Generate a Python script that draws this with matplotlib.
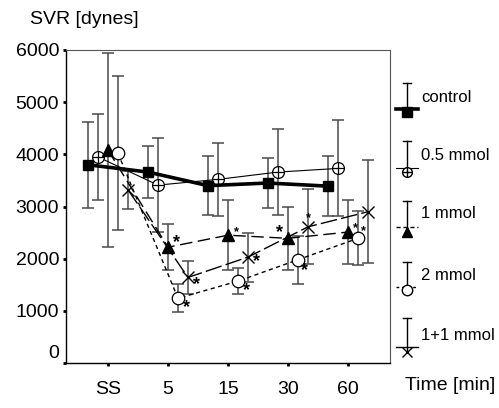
import matplotlib
matplotlib.use("Agg")
import matplotlib.pyplot as plt
import matplotlib.transforms as mtransforms

plt.rcParams['font.family'] = ['Liberation Sans', 'DejaVu Sans']

time_labels = ["SS", "5", "15", "30", "60"]
series_names = ["control", "0.5 mmol", "1 mmol", "2 mmol", "1+1 mmol"]

control_mean = [3800, 3660, 3400, 3450, 3390]
control_err = [820, 500, 560, 480, 580]
half_mean = [3950, 3410, 3520, 3660, 3730]
half_err = [825, 900, 700, 820, 920]
one_mean = [4080, 2220, 2450, 2390, 2510]
one_err = [1860, 440, 670, 600, 615]
two_mean = [4020, 1240, 1570, 1980, 2390]
two_err = [1480, 270, 255, 460, 520]
oneone_mean = [3320, 1640, 2030, 2610, 2900]
oneone_err = [365, 310, 470, 720, 990]

W, H = 499, 408
fig = plt.figure(figsize=(W / 100, H / 100), dpi=100)
ax = fig.add_axes([66 / W, 45 / H, 324 / W, 313 / H])

offsets = [-1 / 3, -1 / 6, 0, 1 / 6, 1 / 3]
xs = list(range(len(time_labels)))
ecol = '#4a4a4a'

def px(i):
    return [x + offsets[i] for x in xs]

for i, (m, e) in enumerate([(control_mean, control_err), (half_mean, half_err),
                            (one_mean, one_err), (two_mean, two_err),
                            (oneone_mean, oneone_err)]):
    ax.errorbar(px(i), m, yerr=e, fmt='none', ecolor=ecol, elinewidth=1.1,
                capsize=4.5, capthick=1.1, zorder=2)

ax.plot(px(0), control_mean, color='black', lw=2.6, marker='s', ms=7.5,
        mfc='black', mec='black', zorder=5)
ax.plot(px(1), half_mean, color='black', lw=0.8, marker='o', ms=8.5,
        mfc='white', mec='black', mew=0.9, zorder=4)
ax.plot(px(1), half_mean, ls='none', marker='+', ms=8.5, mec='black',
        mew=0.9, zorder=4.1)
ax.plot(px(2), one_mean, color='black', lw=1.0, dashes=(9, 4), marker='^',
        ms=8, mfc='black', mec='black', zorder=4)
ax.plot(px(3), two_mean, color='black', lw=1.0, dashes=(3, 2.5), marker='o',
        ms=9, mfc='white', mec='black', mew=0.9, zorder=4)
ax.plot(px(4), oneone_mean, color='black', lw=1.0, dashes=(12, 3), marker='x',
        ms=9, mec='black', mew=1.0, zorder=4)

def star(x, y, dx, dy, size):
    ax.annotate('*', (x, y), xytext=(dx, dy), textcoords='offset points',
                ha='center', va='center', fontsize=size, fontweight='bold',
                color='black', zorder=6)

p = px(2)
star(p[1], one_mean[1], 6, 3, 13)
star(p[2], one_mean[2], 6, 2, 9)
star(p[3], one_mean[3], -6, 4, 13)
star(p[4], one_mean[4], 5, 3, 9)
p = px(3)
star(p[1], two_mean[1], 6, -7, 13)
star(p[2], two_mean[2], 6, -7, 13)
star(p[3], two_mean[3], 5, -8, 13)
star(p[4], two_mean[4], 4, 5, 9)
p = px(4)
star(p[1], oneone_mean[1], 6, -5, 13)
star(p[2], oneone_mean[2], 6, -3, 13)
star(p[3], oneone_mean[3], 0, 6, 9)

ax.set_xlim(-0.7, 4.7)
ax.set_ylim(0, 6000)
ax.set_xticks(xs)
ax.set_xticklabels(time_labels)
ax.set_yticks(range(0, 6001, 1000))
ax.tick_params(axis='both', labelsize=14, length=2, width=2, color='black')
ax.tick_params(axis='x', pad=11)
ax.tick_params(axis='y', pad=3)
for s in ['left', 'bottom']:
    ax.spines[s].set_color('black')
    ax.spines[s].set_linewidth(1.0)
for s in ['top', 'right']:
    ax.spines[s].set_color('#555555')
    ax.spines[s].set_linewidth(0.8)

fig.canvas.draw()
lbl0 = ax.get_yticklabels()[0]
lbl0.set_transform(lbl0.get_transform() +
                   mtransforms.ScaledTranslation(0, 8 / 72, fig.dpi_scale_trans))

fig.text(30 / W, 1 - 19 / H, "SVR [dynes]", fontsize=14, ha='left', va='center')
fig.text(405 / W, 1 - 385 / H, "Time [min]", fontsize=14, ha='left', va='center')

lax = fig.add_axes([0, 0, 1, 1], facecolor='none')
lax.set_xlim(0, W)
lax.set_ylim(H, 0)
lax.axis('off')
bx = 407
cap_y = [83, 141, 201, 262, 318]
line_y = [109, 168, 227, 287, 347]
mark_y = [112, 172, 232, 290, 352]
text_y = [97, 156, 214, 275, 336]
styles = [
    dict(lw=2.6, ls='-'),
    dict(lw=0.8, ls='-'),
    dict(lw=1.0, ls=(0, (3, 2))),
    dict(lw=1.0, ls=(0, (2, 2))),
    dict(lw=1.0, ls='-'),
]
markers = [
    dict(marker='s', ms=7, mfc='black', mec='black'),
    dict(marker='o', ms=7, mfc='white', mec='black'),
    dict(marker='^', ms=7, mfc='black', mec='black'),
    dict(marker='o', ms=7.5, mfc='white', mec='black'),
    dict(marker='x', ms=7, mec='black'),
]
for i, name in enumerate(series_names):
    lax.plot([bx, bx], [cap_y[i], mark_y[i]], color='black', lw=1.0)
    lax.plot([bx - 4, bx + 4], [cap_y[i], cap_y[i]], color='black', lw=1.0)
    lax.plot([bx - 11, bx + 11], [line_y[i], line_y[i]], color='black', **styles[i])
    lax.plot([bx], [mark_y[i]], ls='none', **markers[i])
    if i == 1:
        lax.plot([bx], [mark_y[i]], ls='none', marker='+', ms=7, mec='black')
    lax.text(421, text_y[i], name, fontsize=12, ha='left', va='center')

fig.savefig("out.png", dpi=100)
